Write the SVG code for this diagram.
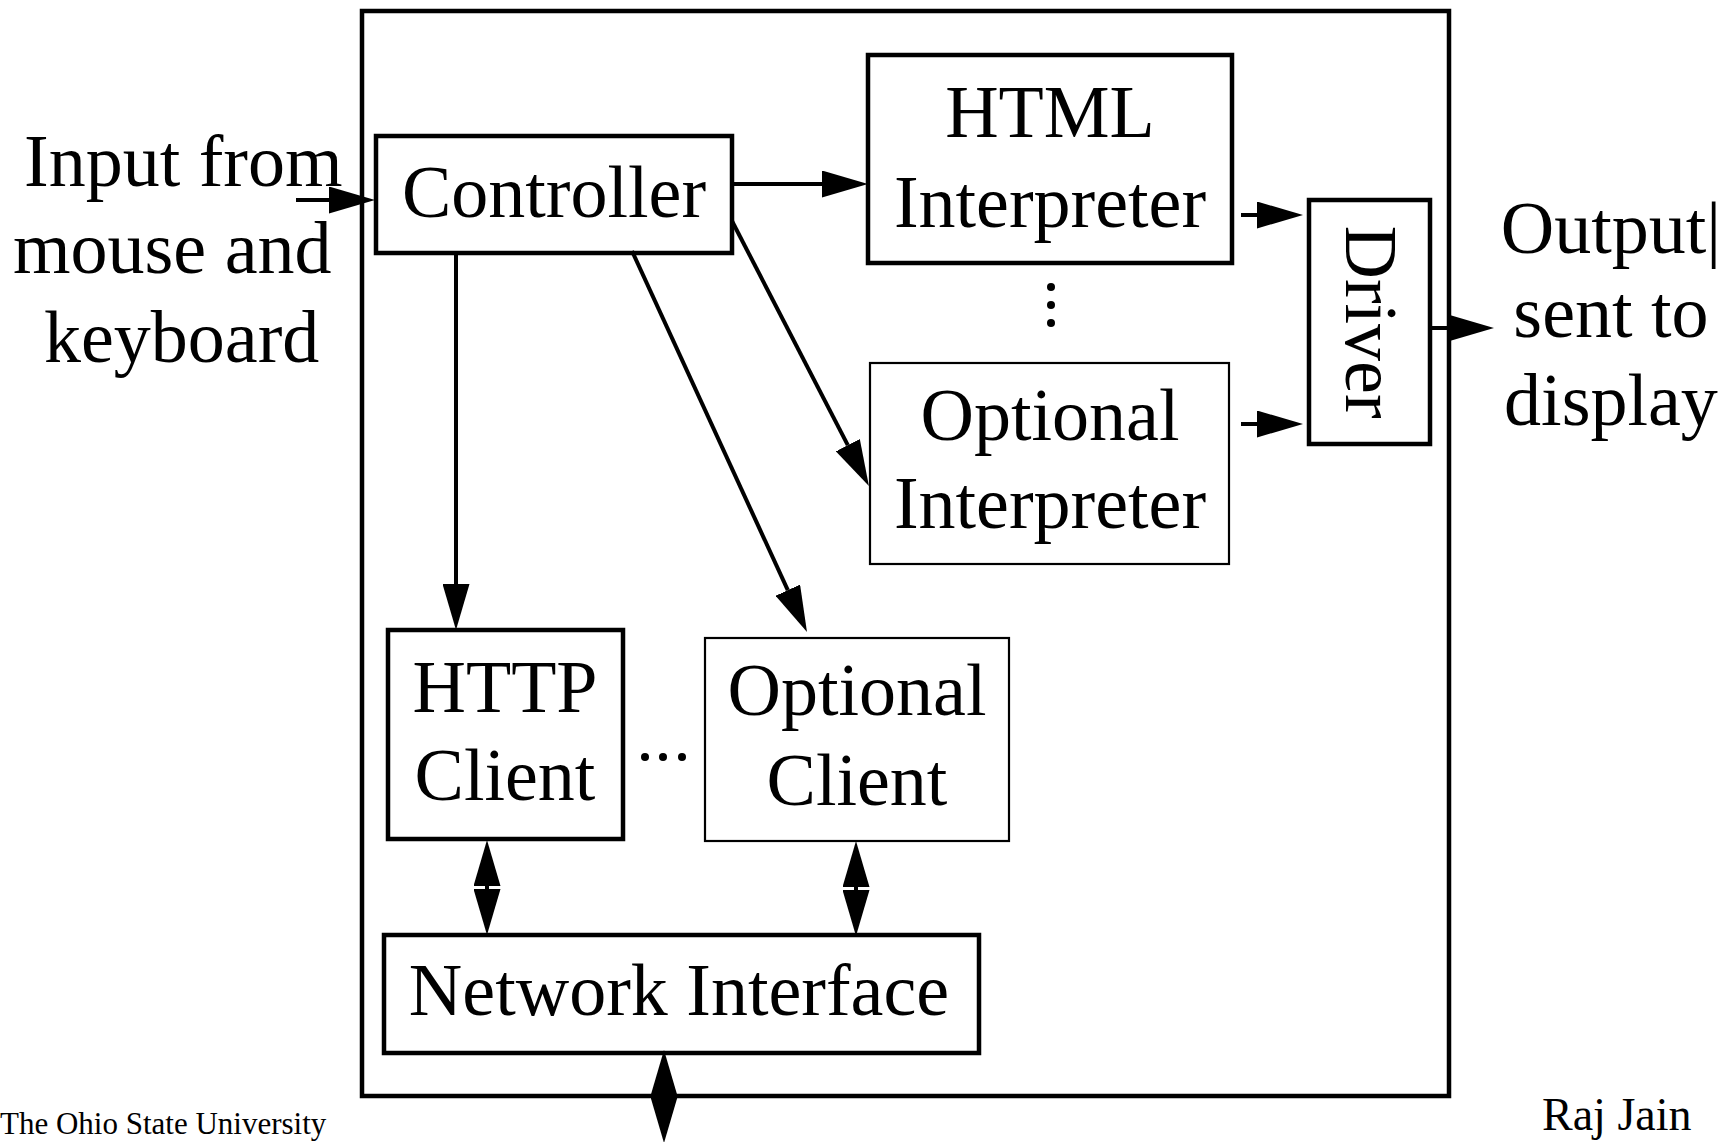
<svg xmlns="http://www.w3.org/2000/svg" width="1730" height="1142" viewBox="0 0 1730 1142">
<style>
text{font-family:"Liberation Serif","Times New Roman",serif;fill:#000}
.t{font-size:74px}
.m{text-anchor:middle}
.thick{fill:#fff;stroke:#000;stroke-width:4.5}
.thin{fill:#fff;stroke:#000;stroke-width:2.2}
.ln{stroke:#000;stroke-width:4;fill:none}
.ft{font-size:31px}
</style>
<defs>
<marker id="ah" viewBox="0 0 46 27" markerWidth="46" markerHeight="27" refX="0" refY="13.5" orient="auto-start-reverse" markerUnits="userSpaceOnUse">
<path d="M0,0 L46,13.5 L0,27 z" fill="#000"/>
</marker>
</defs>
<rect width="1730" height="1142" fill="#fff"/>
<g id="outer"><rect x="362" y="11" width="1087" height="1085" style="fill:none;stroke:#000;stroke-width:4.5"/></g>
<g id="input-label">
<text class="t" x="24" y="186">Input from</text>
<text class="t" x="13" y="273">mouse and</text>
<text class="t" x="44" y="362">keyboard</text>
</g>
<g id="controller"><rect x="376" y="136" width="356" height="117" class="thick"/><text class="t m" x="554" y="217">Controller</text></g>
<g id="html-interpreter"><rect x="868" y="55" width="364" height="208" class="thick"/><text class="t m" x="1050" y="137">HTML</text><text class="t m" x="1050" y="227">Interpreter</text></g>
<g id="ellipsis-v"><circle cx="1051" cy="287" r="4"/><circle cx="1051" cy="305" r="4"/><circle cx="1051" cy="323" r="4"/></g>
<g id="optional-interpreter"><rect x="870" y="363" width="359" height="201" class="thin"/><text class="t m" x="1050" y="440">Optional</text><text class="t m" x="1050" y="528">Interpreter</text></g>
<g id="driver"><rect x="1309" y="200" width="121" height="244" class="thick"/><text class="t m" transform="translate(1346,322) rotate(90)" x="0" y="0">Driver</text></g>
<g id="output-label">
<text class="t m" x="1611" y="253">Output|</text>
<text class="t m" x="1611" y="337">sent to</text>
<text class="t m" x="1611" y="425">display</text>
</g>
<g id="http-client"><rect x="388" y="630" width="235" height="209" class="thick"/><text class="t m" x="505" y="712">HTTP</text><text class="t m" x="505" y="800">Client</text></g>
<g id="ellipsis-h"><circle cx="645" cy="757" r="4"/><circle cx="663" cy="757" r="4"/><circle cx="682" cy="757" r="4"/></g>
<g id="optional-client"><rect x="705" y="638" width="304" height="203" class="thin"/><text class="t m" x="857" y="715">Optional</text><text class="t m" x="857" y="805">Client</text></g>
<g id="network-interface"><rect x="384" y="935" width="595" height="118" class="thick"/><text class="t m" x="679" y="1015">Network Interface</text></g>
<g id="connectors">
<line class="ln" x1="296" y1="200" x2="329" y2="200" marker-end="url(#ah)"/>
<line class="ln" x1="732" y1="184" x2="822" y2="184" marker-end="url(#ah)"/>
<line class="ln" x1="1241" y1="215" x2="1257" y2="215" marker-end="url(#ah)"/>
<line class="ln" x1="1241" y1="424" x2="1257" y2="424" marker-end="url(#ah)"/>
<line class="ln" x1="1432" y1="328" x2="1448" y2="328" marker-end="url(#ah)"/>
<line class="ln" x1="456" y1="253" x2="456" y2="584" marker-end="url(#ah)"/>
<line class="ln" x1="632" y1="251" x2="787.8" y2="590.2" marker-end="url(#ah)"/>
<line class="ln" x1="732" y1="221" x2="847.8" y2="445.2" marker-end="url(#ah)"/>
<line class="ln" x1="487" y1="886" x2="487" y2="889" marker-start="url(#ah)" marker-end="url(#ah)"/>
<line class="ln" x1="856" y1="887" x2="856" y2="890" marker-start="url(#ah)" marker-end="url(#ah)"/>
<line class="ln" x1="664" y1="1096" x2="664" y2="1097" marker-start="url(#ah)" marker-end="url(#ah)"/>
</g>
<g id="footer">
<text class="ft" x="0" y="1134">The Ohio State University</text>
<text x="1542" y="1130" style="font-size:46px">Raj Jain</text>
</g>
</svg>
